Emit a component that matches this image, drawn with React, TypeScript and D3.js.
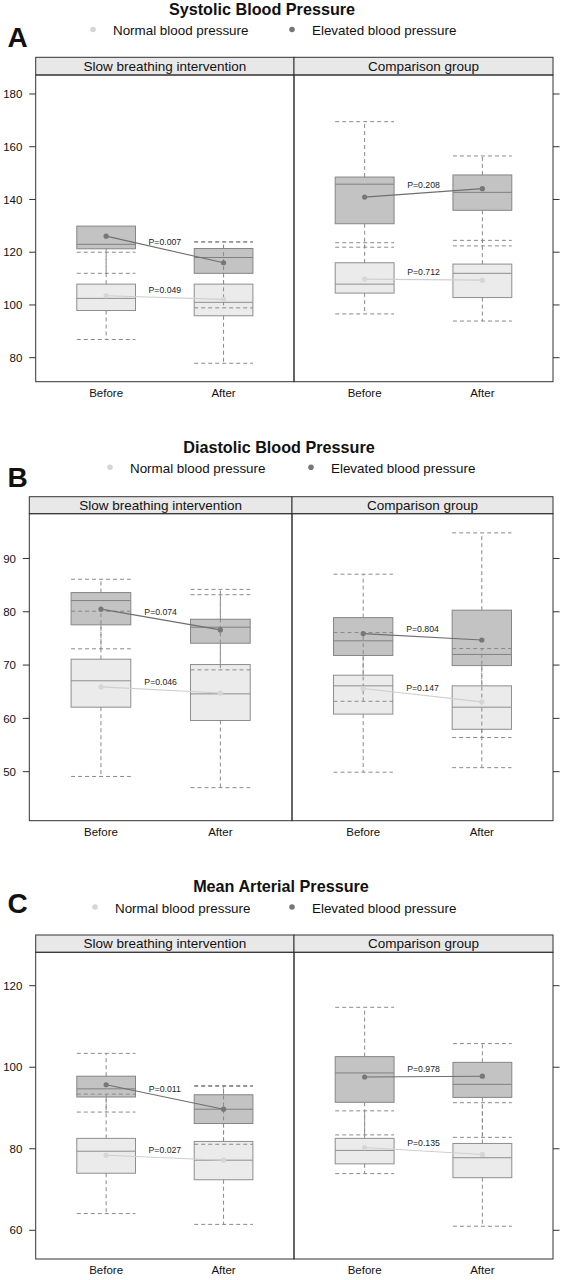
import React from "react";
import * as d3 from "d3";

// ---------- data ----------
const TIMES = ["Before", "After"];
const GROUPS = ["Slow breathing intervention", "Comparison group"];
const LEGEND = ["Normal blood pressure", "Elevated blood pressure"];
const TITLES = ["Systolic Blood Pressure", "Diastolic Blood Pressure", "Mean Arterial Pressure"];
const LETTERS = ["A", "B", "C"];

// each row: [lower whisker, Q1, median, Q3, upper whisker, mean]
// rows: Slow-Before, Slow-After, Comparison-Before, Comparison-After
const sbpNormal = [
  [86.9, 97.9, 102.5, 107.9, 120.0, 103.5],
  [77.9, 95.9, 101.0, 107.9, 124.0, 102.1],
  [96.6, 104.5, 107.9, 116.0, 123.6, 109.8],
  [93.9, 102.8, 112.0, 115.5, 124.5, 109.4],
];
const sbpElevated = [
  [112.0, 121.3, 123.0, 129.9, 129.9, 126.1],
  [98.9, 112.0, 118.0, 121.4, 123.8, 116.0],
  [121.9, 130.8, 145.8, 148.5, 169.5, 140.9],
  [122.4, 135.9, 142.7, 149.3, 156.5, 144.1],
];
const sbpPNormal = ["0.049", "0.712"];
const sbpPElevated = ["0.007", "0.208"];
const sbpTicks = [80, 100, 120, 140, 160, 180];
const sbpDomain = [70.9, 187.2];

const dbpNormal = [
  [49.1, 62.1, 67.05, 71.1, 80.1, 65.9],
  [47.0, 59.6, 64.6, 70.1, 84.2, 64.75],
  [49.9, 60.8, 66.1, 68.1, 76.1, 65.6],
  [50.75, 57.95, 62.1, 66.1, 73.1, 63.1],
];
const dbpElevated = [
  [73.05, 77.55, 82.1, 83.6, 86.1, 80.5],
  [69.1, 74.1, 77.1, 78.6, 83.2, 76.6],
  [63.2, 71.8, 74.55, 78.9, 87.05, 75.9],
  [56.4, 69.9, 72.0, 80.3, 94.8, 74.7],
];
const dbpPNormal = ["0.046", "0.147"];
const dbpPElevated = ["0.074", "0.804"];
const dbpTicks = [50, 60, 70, 80, 90];
const dbpDomain = [40.8, 98.4];

const mapNormal = [
  [64.1, 74.0, 79.4, 82.55, 93.4, 78.4],
  [61.45, 72.4, 77.2, 81.8, 95.3, 77.2],
  [73.9, 76.3, 79.6, 82.55, 89.3, 80.3],
  [61.0, 72.9, 77.8, 81.3, 91.3, 78.6],
];
const mapElevated = [
  [89.0, 92.7, 94.7, 97.8, 103.4, 95.7],
  [81.1, 86.2, 89.7, 93.25, 95.5, 89.7],
  [83.4, 91.4, 98.6, 102.6, 114.7, 97.6],
  [82.8, 92.6, 95.8, 101.2, 105.8, 97.8],
];
const mapPNormal = ["0.027", "0.135"];
const mapPElevated = ["0.011", "0.978"];
const mapTicks = [60, 80, 100, 120];
const mapDomain = [52.96, 128.19];

// ---------- layout / styles ----------
const FONT = "'Liberation Sans', Arial, Helvetica, sans-serif";
const STYLE = {
  normal: { fill: "#ebebeb", stroke: "#8e8e8e", median: "#8e8e8e", dot: "#d6d6d6", line: "#cfcfcf" },
  elevated: { fill: "#c3c3c3", stroke: "#858585", median: "#808080", dot: "#777777", line: "#6f6f6f" },
};

const LAYOUTS = [
  { left: 35.7, mid: 294, right: 553, stripTop: 57.3, plotTop: 75, plotBottom: 381.7, titleX: 262, titleY: 15, legendY: 35, leg: [93, 292], letterY: 47 },
  { left: 29.3, mid: 292, right: 553, stripTop: 496.7, plotTop: 513.7, plotBottom: 820.7, titleX: 279, titleY: 453, legendY: 472.7, leg: [110, 311], letterY: 486.5 },
  { left: 35.7, mid: 294, right: 553, stripTop: 935, plotTop: 952.3, plotBottom: 1259, titleX: 281, titleY: 892, legendY: 912.5, leg: [95, 292], letterY: 912.5 },
];

const PANELS = [
  { normal: sbpNormal, elevated: sbpElevated, pN: sbpPNormal, pE: sbpPElevated, ticks: sbpTicks, domain: sbpDomain },
  { normal: dbpNormal, elevated: dbpElevated, pN: dbpPNormal, pE: dbpPElevated, ticks: dbpTicks, domain: dbpDomain },
  { normal: mapNormal, elevated: mapElevated, pN: mapPNormal, pE: mapPElevated, ticks: mapTicks, domain: mapDomain },
];

function Panel({ idx }: { idx: number }) {
  const L = LAYOUTS[idx];
  const P = PANELS[idx];
  const y = d3.scaleLinear().domain(P.domain).range([L.plotBottom, L.plotTop]);
  const bounds = [
    [L.left, L.mid],
    [L.mid, L.right],
  ];
  const half = 0.25;

  const boxes = (g: number, x: d3.ScaleLinear<number, number>) => {
    const sets = [
      { key: "normal", rows: P.normal, st: STYLE.normal },
      { key: "elevated", rows: P.elevated, st: STYLE.elevated },
    ];
    const boxEls: any[] = [];
    const whiskEls: any[] = [];
    const medEls: any[] = [];
    const meanEls: any[] = [];
    sets.forEach((s) => {
      TIMES.forEach((t, ti) => {
        const r = s.rows[g * 2 + ti];
        const [lo, q1, med, q3, hi] = r;
        const cx = x(ti + 1);
        const x0 = x(ti + 1 - half);
        const x1 = x(ti + 1 + half);
        boxEls.push(
          <rect key={`b${s.key}${ti}`} x={x0} y={y(q3)} width={x1 - x0} height={y(q1) - y(q3)} fill={s.st.fill} stroke={s.st.stroke} strokeWidth={1} />
        );
        medEls.push(<line key={`m${s.key}${ti}`} x1={x0} x2={x1} y1={y(med)} y2={y(med)} stroke={s.st.median} strokeWidth={1} />);
        const dash = "4,3";
        const wc = "#8a8a8a";
        whiskEls.push(
          <g key={`w${s.key}${ti}`} stroke={wc} strokeWidth={1} strokeDasharray={dash} fill="none">
            {hi > q3 && <line x1={cx} x2={cx} y1={y(q3)} y2={y(hi)} />}
            {hi > q3 && <line x1={x0} x2={x1} y1={y(hi)} y2={y(hi)} />}
            {lo < q1 && <line x1={cx} x2={cx} y1={y(q1)} y2={y(lo)} />}
            {lo < q1 && <line x1={x0} x2={x1} y1={y(lo)} y2={y(lo)} />}
          </g>
        );
      });
      const m0 = s.rows[g * 2][5];
      const m1 = s.rows[g * 2 + 1][5];
      const pv = s.key === "normal" ? P.pN[g] : P.pE[g];
      meanEls.push(
        <g key={`mean${s.key}`}>
          <line x1={x(1)} x2={x(2)} y1={y(m0)} y2={y(m1)} stroke={s.st.line} strokeWidth={1.1} />
          <circle cx={x(1)} cy={y(m0)} r={2.6} fill={s.st.dot} />
          <circle cx={x(2)} cy={y(m1)} r={2.6} fill={s.st.dot} />
          <text x={x(1.5)} y={(y(m0) + y(m1)) / 2 - 4.6} textAnchor="middle" fontSize={8.7} fill="#222" fontFamily={FONT}>
            {`P=${pv}`}
          </text>
        </g>
      );
    });
    return [...boxEls, ...whiskEls, ...medEls, ...meanEls];
  };

  return (
    <g>
      <text x={L.titleX} y={L.titleY} textAnchor="middle" fontSize={16.2} fontWeight="bold" fontFamily={FONT} fill="#111">
        {TITLES[idx]}
      </text>
      <text x={7.5} y={L.letterY} fontSize={28} fontWeight="bold" fontFamily={FONT} fill="#111">
        {LETTERS[idx]}
      </text>
      {LEGEND.map((lab, i) => (
        <g key={lab}>
          <circle cx={L.leg[i]} cy={L.legendY - 5.5} r={2.8} fill={i === 0 ? STYLE.normal.dot : STYLE.elevated.dot} />
          <text x={L.leg[i] + 20} y={L.legendY} fontSize={13.4} fontFamily={FONT} fill="#111">
            {lab}
          </text>
        </g>
      ))}
      {bounds.map(([a, b], g) => {
        const x = d3.scaleLinear().domain([0.4, 2.6]).range([a, b]);
        return (
          <g key={g}>
            <rect x={a} y={L.stripTop} width={b - a} height={L.plotTop - L.stripTop} fill="#e8e8e8" stroke="#333" strokeWidth={1} />
            <text x={(a + b) / 2} y={L.plotTop - 4} textAnchor="middle" fontSize={13.5} fontFamily={FONT} fill="#111">
              {GROUPS[g]}
            </text>
            {boxes(g, x)}
            <rect x={a} y={L.plotTop} width={b - a} height={L.plotBottom - L.plotTop} fill="none" stroke="#333" strokeWidth={1} />
            {TIMES.map((t, ti) => (
              <text key={t} x={x(ti + 1)} y={L.plotBottom + 15.3} textAnchor="middle" fontSize={11.5} fontFamily={FONT} fill="#111">
                {t}
              </text>
            ))}
          </g>
        );
      })}
      {P.ticks.map((t) => (
        <g key={t}>
          <line x1={L.left - 6.5} x2={L.left} y1={y(t)} y2={y(t)} stroke="#333" strokeWidth={1} />
          <line x1={L.right} x2={L.right + 6.5} y1={y(t)} y2={y(t)} stroke="#333" strokeWidth={1} />
          <text x={L.left - 13.3} y={y(t)} dy="0.36em" textAnchor="end" fontSize={11.5} fontFamily={FONT} fill="#111">
            {t}
          </text>
        </g>
      ))}
    </g>
  );
}

export default function App() {
  return (
    <svg width={563} height={1280} style={{ position: "absolute", left: 0, top: 0, background: "#fff" }}>
      <rect x={0} y={0} width={563} height={1280} fill="#fff" />
      {[0, 1, 2].map((i) => (
        <Panel key={i} idx={i} />
      ))}
    </svg>
  );
}
